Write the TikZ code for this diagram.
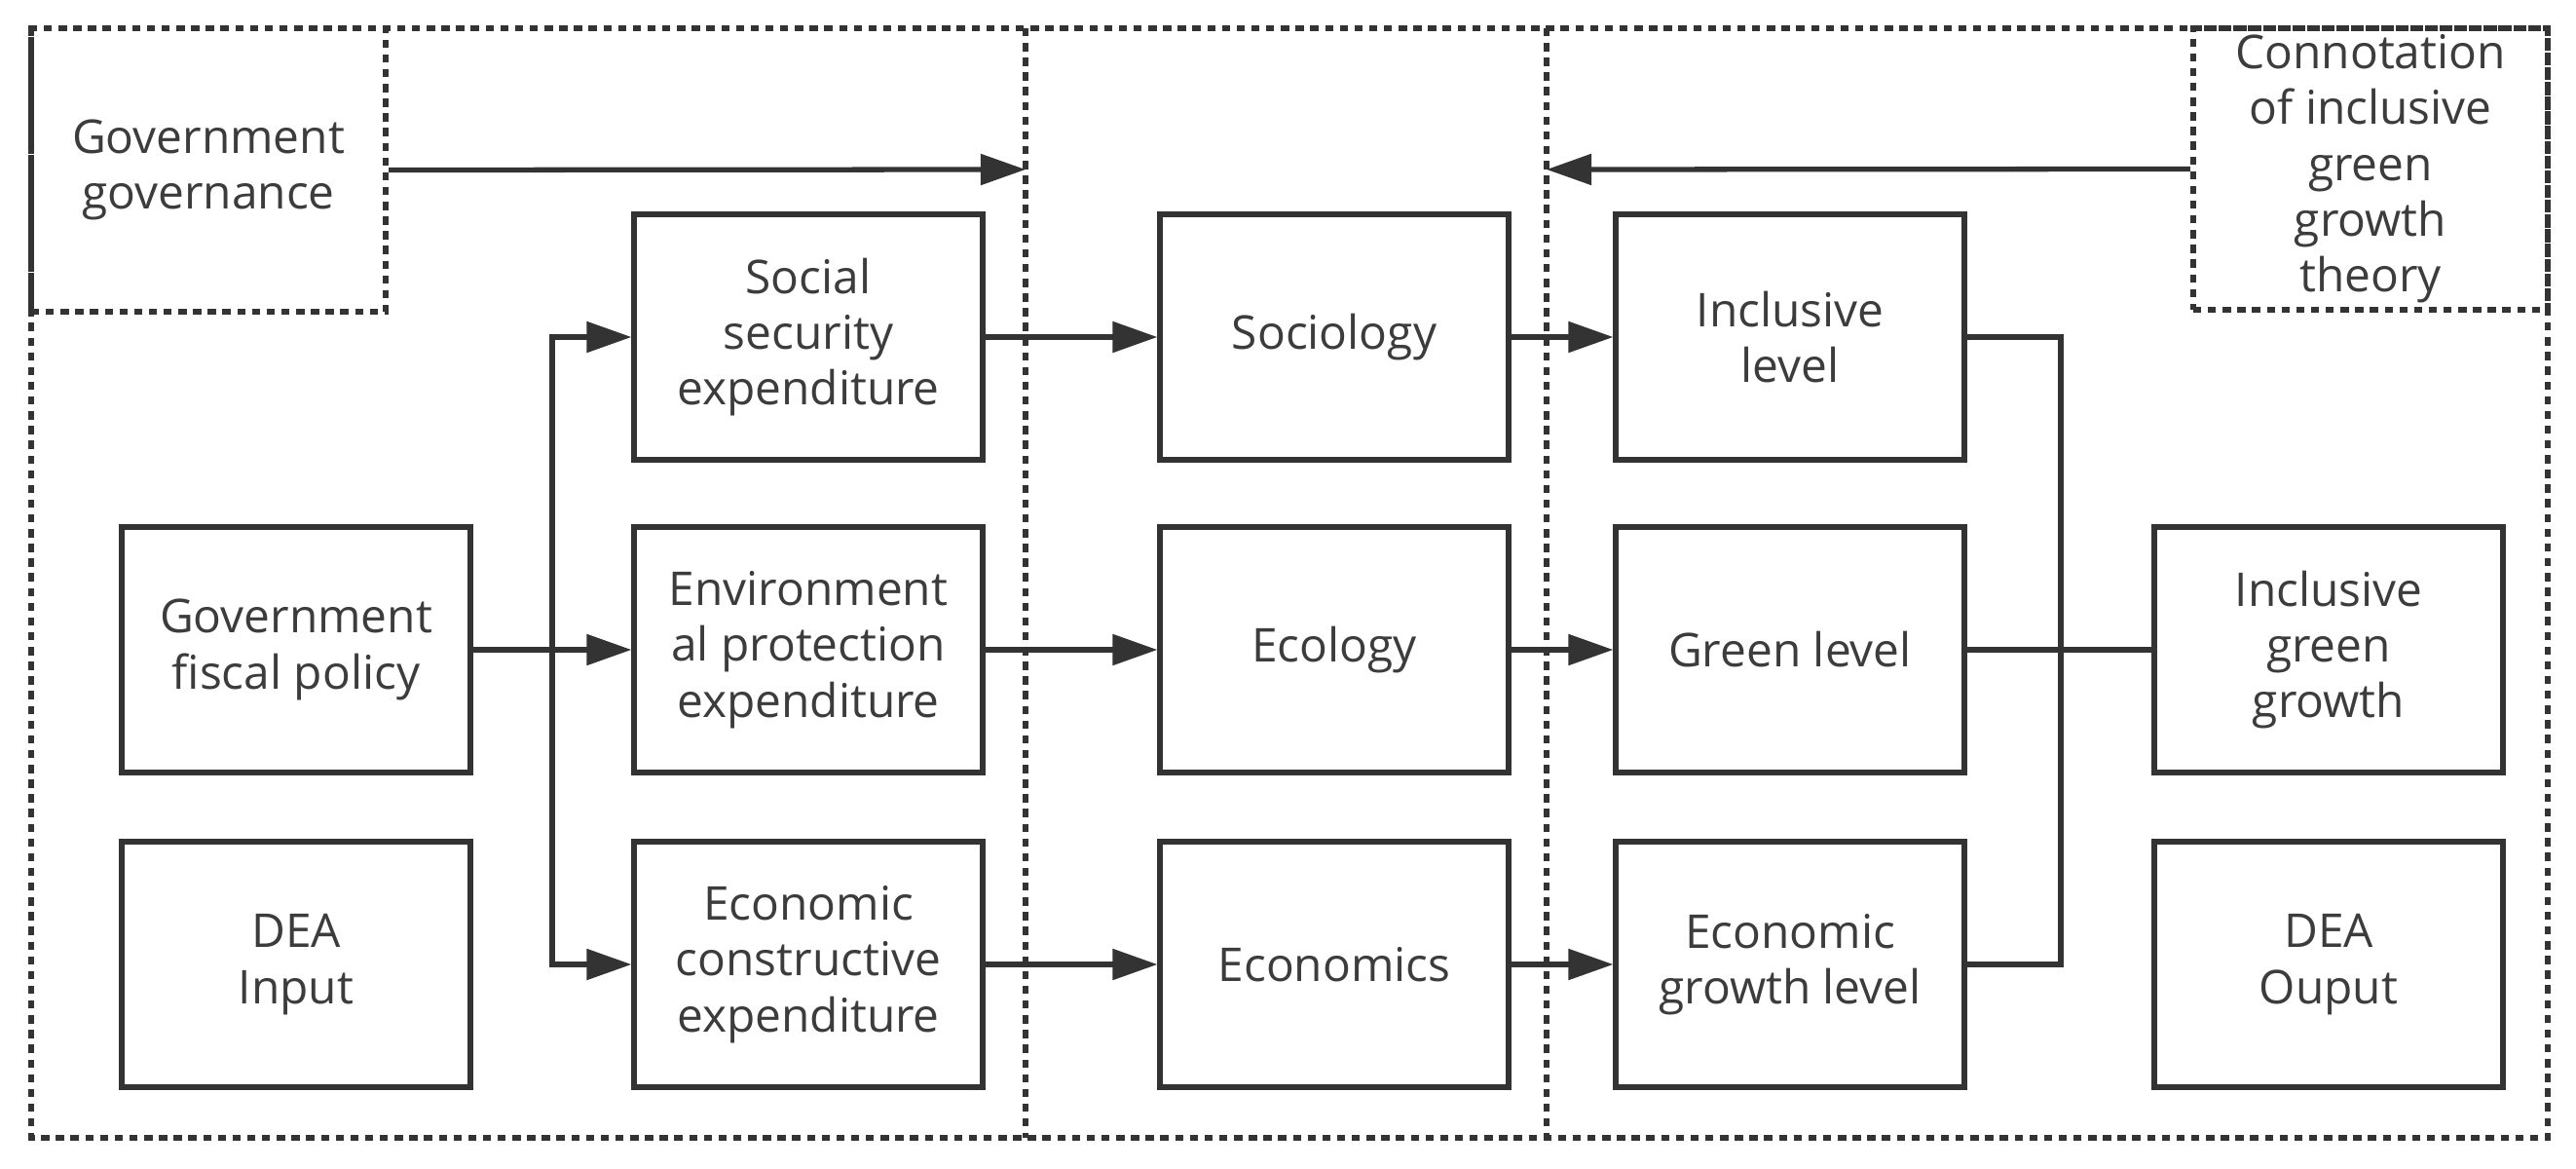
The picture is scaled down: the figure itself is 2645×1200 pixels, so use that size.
\documentclass[tikz,border=0pt]{standalone}
\usepackage{fontspec}
\setmainfont{Open Sans}
\usetikzlibrary{arrows.meta}

\definecolor{lc}{RGB}{51,51,51}
\definecolor{tc}{RGB}{60,60,60}

\tikzset{
  box/.style={draw=lc, line width=1.7pt, minimum width=3.57cm, minimum height=2.51cm,
    align=center, inner sep=0pt, text=tc, font=\fontsize{13.6}{16.3}\selectfont},
  frame/.style={draw=lc, line width=1.7pt, dash pattern=on 2.4pt off 1.9pt},
  lbl/.style={align=center, inner sep=0pt, text=tc, font=\fontsize{13.6}{16.3}\selectfont},
  arr/.style={draw=lc, line width=1.5pt, -{Triangle[length=0.46cm,width=0.31cm]}},
  conn/.style={draw=lc, line width=1.5pt},
}

\begin{document}
\begin{tikzpicture}[x=0.01cm,y=0.01cm,yscale=-1]
  \useasboundingbox (0,0) rectangle (2645,1200);

  % dotted frames
  \draw[frame] (32,29) rectangle (2616,1168);
  \draw[frame] (1053,29) -- (1053,1168);
  \draw[frame] (1588,29) -- (1588,1168);
  \node[frame, lbl, minimum width=3.64cm, minimum height=2.91cm] (gov) at (214,174.5) {Government\\governance};
  \node[frame, lbl, minimum width=3.64cm, minimum height=2.89cm] (theory) at (2434,173.5) {Connotation\\of inclusive\\green\\growth\\theory};
  \coordinate (sepA) at (1053,174);
  \coordinate (sepB) at (1588,174);

  % column 1
  \node[box] (fiscal) at (304,667) {Government\\fiscal policy};
  \node[box] (input) at (304,990) {DEA\\Input};
  % column 2
  \node[box] (social) at (830,346) {Social\\security\\expenditure};
  \node[box] (envir) at (830,667) {Environment\\al protection\\expenditure};
  \node[box] (constr) at (830,990) {Economic\\constructive\\expenditure};
  % column 3
  \node[box] (socio) at (1370,346) {Sociology};
  \node[box] (ecolo) at (1370,667) {Ecology};
  \node[box] (econo) at (1370,990) {Economics};
  % column 4
  \node[box] (incl) at (1838,346) {Inclusive\\level};
  \node[box] (green) at (1838,667) {Green level};
  \node[box] (egrow) at (1838,990) {Economic\\growth level};
  % column 5
  \node[box] (igg) at (2391,667) {Inclusive\\green\\growth};
  \node[box] (output) at (2391,990) {DEA\\Ouput};

  \coordinate (fork) at (567,667);
  \coordinate (join) at (2116,667);

  % connectors
  \draw[arr] (gov.east) -- (sepA);
  \draw[arr] (theory.west) -- (sepB);
  \draw[arr] (fiscal.east) -- (envir.west);
  \draw[arr] (fork) |- (social.west);
  \draw[arr] (fork) |- (constr.west);
  \draw[arr] (social.east) -- (socio.west);
  \draw[arr] (envir.east) -- (ecolo.west);
  \draw[arr] (constr.east) -- (econo.west);
  \draw[arr] (socio.east) -- (incl.west);
  \draw[arr] (ecolo.east) -- (green.west);
  \draw[arr] (econo.east) -- (egrow.west);
  \draw[conn] (incl.east) -| (join) |- (egrow.east);
  \draw[conn] (green.east) -- (igg.west);
\end{tikzpicture}
\end{document}
